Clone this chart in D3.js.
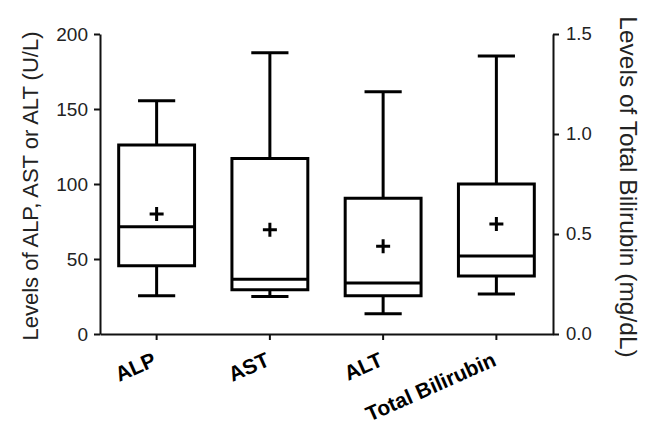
<!DOCTYPE html>
<html>
<head>
<meta charset="utf-8">
<script src="https://cdn.jsdelivr.net/npm/d3@7"></script>
<style>
  body { margin: 0; background: #fff; }
  svg { font-family: "Liberation Sans", Arial, sans-serif; }
</style>
</head>
<body>
<svg id="chart" width="652" height="430"></svg>
<script>
// box plot data
const categories = ["ALP", "AST", "ALT", "Total Bilirubin"];
const axisSide   = ["left", "left", "left", "right"];   // which y axis each box uses
const whiskerLow = [25.5, 25, 13.5, 0.2];
const q1         = [45.5, 29.5, 25.5, 0.29];
const median     = [71.5, 36.5, 34, 0.39];
const q3         = [126, 117, 90.5, 0.75];
const whiskerHigh= [155.5, 187.5, 161.5, 1.39];
const means      = [80, 69.5, 58.5, 0.55];

const leftTicks  = [0, 50, 100, 150, 200];
const rightTicks = [0, 0.5, 1.0, 1.5];

const width = 652, height = 430;
const margin = {top: 34, right: 99, bottom: 96, left: 100};

let svg = d3.select('#chart');

let x = d3.scaleBand()
          .domain(categories)
          .range([margin.left, width - margin.right])
          .padding(0);
let yL = d3.scaleLinear().domain([0, 200]).range([height - margin.bottom, margin.top]);
let yR = d3.scaleLinear().domain([0, 1.5]).range([height - margin.bottom, margin.top]);

// axes
let gL = svg.append('g')
            .attr('transform', `translate(${margin.left},0)`)
            .call(d3.axisLeft(yL).tickValues(leftTicks).tickSize(6).tickSizeOuter(0).tickPadding(6));
let gR = svg.append('g')
            .attr('transform', `translate(${width - margin.right},0)`)
            .call(d3.axisRight(yR).tickValues(rightTicks).tickSize(6).tickSizeOuter(0).tickPadding(7).tickFormat(d3.format('.1f')));
let gX = svg.append('g')
            .attr('transform', `translate(0,${height - margin.bottom})`)
            .call(d3.axisBottom(x).tickSize(6).tickSizeOuter(0));

[gL, gR, gX].forEach(g => {
    g.select('.domain').attr('stroke', '#111').attr('stroke-width', 2);
    g.selectAll('.tick line').attr('stroke', '#111').attr('stroke-width', 2);
    g.selectAll('.tick text').attr('fill', '#222').style('font-size', '19px');
});
gR.selectAll('.tick text').style('font-size', '18.5px');

// rotated bold category labels
gX.selectAll('.tick text')
  .style('font-weight', 'bold')
  .style('font-size', '21px')
  .attr('fill', '#000')
  .attr('text-anchor', 'end')
  .attr('dy', 0)
  .attr('y', 0)
  .attr('transform', 'translate(1,31) rotate(-24)');

// axis titles
svg.append('text')
   .attr('transform', `translate(38,186) rotate(-90)`)
   .attr('text-anchor', 'middle')
   .style('font-size', '22px')
   .attr('fill', '#222')
   .text('Levels of ALP, AST or ALT (U/L)');

svg.append('text')
   .attr('transform', `translate(620,187) rotate(90)`)
   .attr('text-anchor', 'middle')
   .style('font-size', '24.5px')
   .attr('fill', '#222')
   .text('Levels of Total Bilirubin (mg/dL)');

// boxes
const boxW = x.bandwidth() * 0.67;
const capW = boxW * 0.49;
let boxes = svg.append('g').attr('id', 'boxes')
               .selectAll('g')
               .data(categories)
               .enter()
               .append('g')
               .attr('stroke', '#000')
               .attr('stroke-width', 3)
               .attr('fill', 'none');

let yOf = i => axisSide[i] === 'right' ? yR : yL;
let cx = d => x(d) + x.bandwidth() / 2;

// whiskers
boxes.append('line')
     .attr('x1', cx).attr('x2', cx)
     .attr('y1', (d, i) => yOf(i)(whiskerHigh[i]))
     .attr('y2', (d, i) => yOf(i)(q3[i]));
boxes.append('line')
     .attr('x1', cx).attr('x2', cx)
     .attr('y1', (d, i) => yOf(i)(q1[i]))
     .attr('y2', (d, i) => yOf(i)(whiskerLow[i]));
// caps
boxes.append('line')
     .attr('x1', d => cx(d) - capW / 2).attr('x2', d => cx(d) + capW / 2)
     .attr('y1', (d, i) => yOf(i)(whiskerHigh[i]))
     .attr('y2', (d, i) => yOf(i)(whiskerHigh[i]));
boxes.append('line')
     .attr('x1', d => cx(d) - capW / 2).attr('x2', d => cx(d) + capW / 2)
     .attr('y1', (d, i) => yOf(i)(whiskerLow[i]))
     .attr('y2', (d, i) => yOf(i)(whiskerLow[i]));
// box
boxes.append('rect')
     .attr('x', d => cx(d) - boxW / 2)
     .attr('width', boxW)
     .attr('y', (d, i) => yOf(i)(q3[i]))
     .attr('height', (d, i) => yOf(i)(q1[i]) - yOf(i)(q3[i]));
// median
boxes.append('line')
     .attr('x1', d => cx(d) - boxW / 2).attr('x2', d => cx(d) + boxW / 2)
     .attr('y1', (d, i) => yOf(i)(median[i]))
     .attr('y2', (d, i) => yOf(i)(median[i]));
// mean marker (+)
const plus = 7;
boxes.append('path')
     .attr('d', (d, i) => {
         let px = cx(d), py = yOf(i)(means[i]);
         return `M${px - plus},${py}H${px + plus}M${px},${py - plus}V${py + plus}`;
     });
</script>
</body>
</html>
